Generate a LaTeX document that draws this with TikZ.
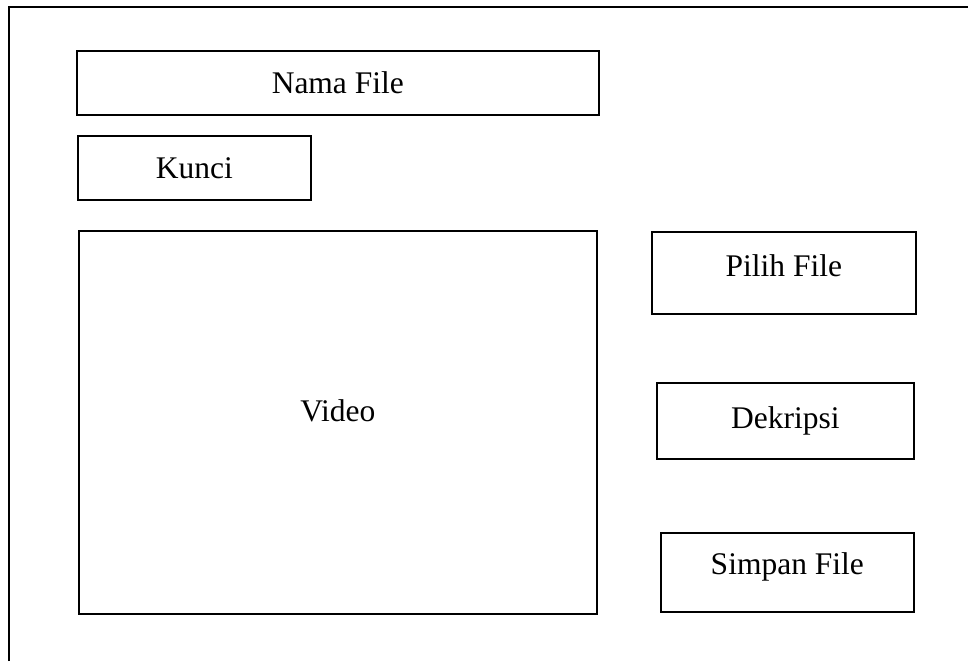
\documentclass[tikz,border=0pt]{standalone}
\usepackage{fontspec}
\setmainfont{Liberation Serif}
\begin{document}
\begin{tikzpicture}[x=1pt,y=1pt,
  box/.style={draw=black, line width=1.6pt, anchor=north west, inner sep=0pt},
  txt/.style={font=\fontsize{31.5}{36}\selectfont}]
\useasboundingbox (0,0) rectangle (968,-661);
\fill[white] (0,0) rectangle (968,-661);
\coordinate (fbl) at (9,-661);
\coordinate (ftl) at (9,-7);
\coordinate (ftr) at (968,-7);
\draw[line width=2pt] (fbl) -- (ftl) -- (ftr);
\node[box, minimum width=522pt, minimum height=64pt,
  label={[txt]center:Nama File}] (nama) at (76,-50) {};
\node[box, minimum width=233pt, minimum height=64pt,
  label={[txt]center:Kunci}] (kunci) at (77,-135) {};
\node[box, minimum width=518pt, minimum height=383pt,
  label={[txt, yshift=11pt]center:Video}] (video) at (78,-230) {};
\node[box, minimum width=264pt, minimum height=82pt,
  label={[txt, yshift=7pt]center:Pilih File}] (pilih) at (651,-231) {};
\node[box, minimum width=257pt, minimum height=76pt,
  label={[txt]center:Dekripsi}] (dekripsi) at (656,-382) {};
\node[box, minimum width=253pt, minimum height=79pt,
  label={[txt, yshift=5pt]center:Simpan File}] (simpan) at (660,-532) {};
\end{tikzpicture}
\end{document}
